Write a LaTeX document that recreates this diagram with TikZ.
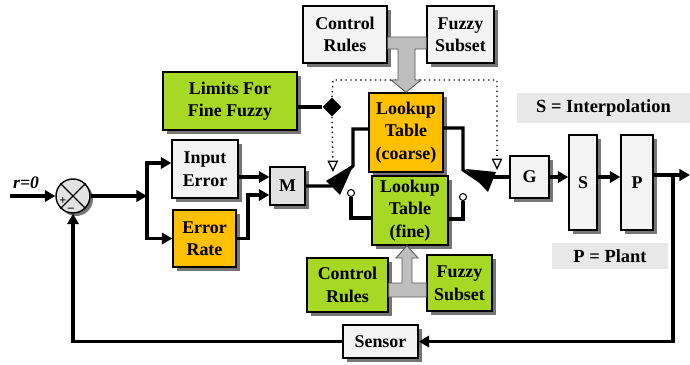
\documentclass[tikz,border=0pt]{standalone}
\usepackage{fontspec}
\setmainfont{Liberation Serif}
\usetikzlibrary{arrows.meta,shapes.geometric,shadows}
\definecolor{orng}{RGB}{255,192,0}
\definecolor{limeg}{RGB}{166,216,36}
\definecolor{boxw}{RGB}{243,243,243}
\definecolor{boxg}{RGB}{226,226,226}
\definecolor{barg}{RGB}{190,190,190}
\definecolor{labg}{RGB}{232,232,232}
\definecolor{shd}{RGB}{118,118,118}
\newcommand\pxu{0.02cm}
\tikzset{
  sz/.style 2 args={minimum width=#1*\pxu, minimum height=#2*\pxu},
  blk/.style={draw=black, line width=0.8pt, align=center, inner sep=0pt,
    font=\bfseries\fontsize{10.2}{12.8}\selectfont,
    drop shadow={shadow xshift=0.08cm, shadow yshift=-0.08cm, fill=shd, opacity=1}},
  wbox/.style={blk, fill=boxw},
  obox/.style={blk, fill=orng},
  gbox/.style={blk, fill=limeg},
  lab/.style={fill=labg, inner sep=0pt, font=\bfseries\fontsize{10.5}{12}\selectfont},
  lw/.style={line width=1.8pt},
  arr/.style={lw, -{Triangle[length=6pt,width=6.5pt]}},
  dotln/.style={line width=0.8pt, dotted, -{Triangle[open,fill=white,length=6.5pt,width=6pt,line width=0.7pt]}},
  dotplain/.style={line width=0.8pt, dotted},
  term/.style={circle, draw=black, fill=white, line width=0.6pt, minimum size=7*\pxu, inner sep=0pt},
  gbar/.style={fill=barg, draw=black!65, line width=0.5pt},
}
\begin{document}
\begin{tikzpicture}[x=0.02cm,y=-0.02cm]
\useasboundingbox (0,0) rectangle (690,365);
% nodes
\node[circle, draw=black, line width=0.8pt, fill=boxg, minimum size=34*\pxu, inner sep=0pt,
  drop shadow={shadow xshift=0.06cm, shadow yshift=-0.06cm, fill=shd, opacity=1}] (sum) at (73,196) {};
\draw[line width=0.8pt] (sum.north west) -- (sum.south east) (sum.north east) -- (sum.south west);
\node[font=\bfseries\fontsize{7}{7}\selectfont, inner sep=0pt] (plus) at (63,201) {+};
\node[font=\bfseries\fontsize{7}{7}\selectfont, inner sep=0pt] (minus) at (71,210) {--};
\node[font=\bfseries\itshape\fontsize{10}{10}\selectfont, inner sep=0pt] (rlab) at (26,183) {r=0};
\coordinate (rin) at (10,196);

\node[wbox, sz={66}{58}] (inerr) at (205,169) {Input\\Error};
\node[obox, sz={63}{57}] (errrate) at (204.5,238.5) {Error\\Rate};
\node[wbox, fill=boxg, sz={35}{38}] (M) at (287.5,186) {M};
\node[gbox, sz={134}{58}] (limits) at (230,101) {Limits For\\Fine Fuzzy};
\node[wbox, sz={84}{57}] (ctrlt) at (345,34.5) {Control\\Rules};
\node[wbox, sz={67}{57}] (fuzt) at (460.5,34.5) {Fuzzy\\Subset};
\node[obox, sz={74}{79}] (coarse) at (406,132.5) {Lookup\\Table\\(coarse)};
\node[gbox, sz={76}{69}] (fine) at (410,210.5) {Lookup\\Table\\(fine)};
\node[gbox, sz={81}{54}] (ctrlb) at (347.5,285) {Control\\Rules};
\node[gbox, sz={65}{56}] (fuzb) at (459.5,283) {Fuzzy\\Subset};
\node[wbox, sz={39}{42}] (G) at (529.5,177) {G};
\node[wbox, sz={28}{95}] (S) at (583,182.5) {S};
\node[wbox, sz={32}{95}] (P) at (637,182.5) {P};
\node[wbox, sz={75}{33}] (sensor) at (380.5,341.5) {Sensor};
\node[lab, sz={173}{30}] (slab) at (603.5,108) {S = Interpolation};
\node[lab, sz={116}{26}] (plab) at (610,256) {P = Plant};
\node[diamond, fill=black, minimum size=19*\pxu, inner sep=0pt] (dia) at (332,107) {};
\node[term] (tl) at (351,193) {};
\node[term] (tr) at (463,197) {};

% input and split
\draw[arr] (rin) -- (sum.west);
\coordinate (split) at (147,196);
\draw[arr] (sum.east) -- (split);
\draw[arr] (split) |- (inerr.west |- 0,163);
\draw[arr] (split) |- (errrate.west);
\draw[arr] (inerr.east |- 0,177) -- (M.west |- 0,177);
\draw[arr] (errrate.east) -- (248,238.5) -- (248,195) -- (M.west |- 0,195);

% left switch
\coordinate (pivl) at (331,186);
\draw[lw] (M.east) -- (pivl) -- (353,166) -- (353,129) -- (coarse.west |- 0,129);
\fill (326,181) -- (354,164) -- (340,195) -- cycle;

% right switch
\draw[lw] (coarse.east |- 0,128) -- (463,128) -- (463,170) -- (487,186);
\fill (466,169) -- (496,172) -- (488,192) -- cycle;
\coordinate (pivr) at (490,177);
\draw[lw] (pivr) -- (G.west);

% fine terminals
\draw[line width=1.8pt] (tl) |- (fine.west |- 0,218);
\draw[line width=1.8pt] (tr) |- (fine.east |- 0,219);

% limits
\draw[line width=2.8pt] (limits.east |- 0,107) -- (dia);
\draw[dotplain] (dia.north) -- (333,80) -- (497,80) -- (497,150);
\draw[dotln] (497,150) -- (497,170);
\draw[dotln] (dia.south) -- (333,172);

% gray connectors
\draw[gbar] (ctrlt.east |- 0,37) -- (fuzt.west |- 0,37) -- (fuzt.west |- 0,49) -- (415,49) -- (415,80)
  -- (421,80) -- (coarse.north) -- (391,80) -- (398,80) -- (398,49) -- (ctrlt.east |- 0,49) -- cycle;
\draw[gbar] (ctrlb.east |- 0,283) -- (402,283) -- (402,258) -- (396,258) -- (fine.south -| 407,0)
  -- (418,258) -- (412,258) -- (412,283) -- (fuzb.west |- 0,283) -- (fuzb.west |- 0,297) -- (ctrlb.east |- 0,297) -- cycle;

% forward path
\draw[arr] (G.east) -- (S.west |- G.east);
\draw[arr] (S.east |- 0,177) -- (P.west |- 0,177);
\coordinate (out) at (690,175);
\coordinate (fb) at (673,175);
\draw[arr] (P.east |- 0,175) -- (out);
\draw[arr] (fb) -- (673,341.5) -- (sensor.east);
\draw[arr] (sensor.west) -| (sum.south);
\end{tikzpicture}
\end{document}
